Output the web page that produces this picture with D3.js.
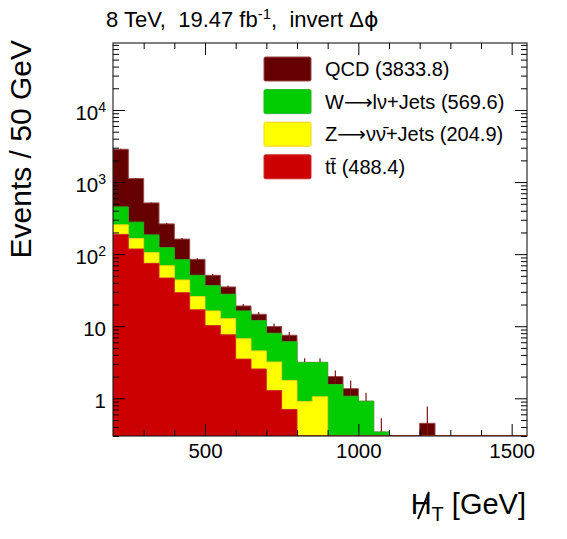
<!DOCTYPE html>
<html>
<head>
<meta charset="utf-8">
<script src="https://cdn.jsdelivr.net/npm/d3@7"></script>
<style>
  body { margin: 0; background: #fff; }
  text { font-family: "Liberation Sans", Arial, Helvetica, sans-serif; white-space: pre; }
  .sym { font-family: "DejaVu Sans", sans-serif; }
</style>
</head>
<body>
<div id="chart"></div>
<script>
// bin low edges (50 GeV bins)
var binLow = [200, 250, 300, 350, 400, 450, 500, 550, 600, 650, 700, 750, 800, 850,
              900, 950, 1000, 1050, 1100, 1150, 1200, 1250, 1300, 1350, 1400, 1450, 1500];
var binWidth = 50;

// per-process yields
var ttbar = [188, 118, 74.6, 46.7, 29.2, 16.9, 10.2, 7.6, 3.5, 2.55, 1.28, 0.70, 0, 0,
             0, 0, 0, 0, 0, 0, 0, 0, 0, 0, 0, 0, 0];
var zinv  = [67, 47, 30.4, 22.3, 14.6, 8.9, 6.1, 5.1, 3.2, 2.0, 1.91, 1.07, 0.90, 1.05,
             0, 0, 0, 0, 0, 0, 0, 0, 0, 0, 0, 0, 0];
var wjets = [197, 113, 80, 54, 40, 25.1, 20.2, 15.1, 9.6, 7.4, 4.8, 4.33, 2.25, 2.10,
             1.55, 1.07, 0.91, 0.34, 0, 0, 0, 0, 0, 0, 0, 0, 0];
var qcd   = [2400, 840, 329, 140, 78, 33.9, 14.4, 7.3, 2.8, 2.7, 1.9, 1.4, 0, 0,
             0.45, 0.29, 0, 0, 0, 0, 0.45, 0, 0, 0, 0, 0, 0];
// uncertainty on the total stack
var totalErr = [40, 18, 8, 8.5, 5.2, 2.7, 2.2, 1.5, 1.26, 1.12, 0.99, 0.83, 0.46, 0.46,
                0.44, 0.41, 0.28, 0.19, 0, 0, 0.32, 0, 0, 0, 0, 0, 0];

// legend pieces: [text before arrow, arrow, text after]
var legendLabels = [["QCD (3833.8)", "", ""],
                    ["W", "\u27f6", "l\u03bd+Jets (569.6)"],
                    ["Z", "\u27f6", "\u03bd\u03bd\u0304+Jets (204.9)"],
                    ["tt\u0304 (488.4)", "", ""]];
var fillColors   = ["#660000", "#00cc00", "#ffff00", "#cc0000"];
var lineColors   = ["#9a4848", "#22b822", "#f2d21a", "#d02a2a"];

var xMajorTicks = [500, 1000, 1500];
var xMinorTicks = [300, 400, 600, 700, 800, 900, 1100, 1200, 1300, 1400];
var yMajorTicks = [1, 10, 100, 1000, 10000];

// Set up SVG dimensions
var margin = { top: 43, right: 40, bottom: 103, left: 113 },
    width = 567 - margin.left - margin.right,
    height = 539 - margin.top - margin.bottom;

var svgRoot = d3.select("#chart")
    .append("svg")
    .attr("width", 567)
    .attr("height", 539);

var svg = svgRoot.append("g")
    .attr("transform", "translate(" + margin.left + "," + margin.top + ")");

var x = d3.scaleLinear().domain([200, 1550]).range([0, width]);
var y = d3.scaleLog().domain([0.3, 85000]).range([height, 0]);

svg.append("clipPath").attr("id", "plotClip")
   .append("rect").attr("width", width).attr("height", height);

// cumulative stacks, bottom to top: tt, Z, W, QCD
var stacks = [];
var running = binLow.map(function() { return 0; });
[ttbar, zinv, wjets, qcd].forEach(function(series) {
  running = running.map(function(v, i) { return v + series[i]; });
  stacks.push(running.slice());
});
// draw order: largest first (QCD total), then W, Z, tt
var drawOrder = [3, 2, 1, 0];

function stepPath(tops) {
  var ymin = y.domain()[0];
  var pts = [];
  binLow.forEach(function(lo, i) {
    var v = Math.max(tops[i], ymin);
    pts.push([x(lo), y(v)]);
    pts.push([x(lo + binWidth), y(v)]);
  });
  var d = "M" + x(binLow[0]) + "," + y(ymin);
  pts.forEach(function(p) { d += "L" + p[0] + "," + p[1]; });
  d += "L" + x(binLow[binLow.length - 1] + binWidth) + "," + y(ymin) + "Z";
  return d;
}

var plot = svg.append("g").attr("clip-path", "url(#plotClip)");

drawOrder.forEach(function(k, n) {
  plot.append("path")
      .attr("d", stepPath(stacks[k]))
      .attr("fill", fillColors[n])
      .attr("stroke", lineColors[n])
      .attr("stroke-width", 1);

  if (n === 0) {
    // error bars on the total
    plot.selectAll(".err")
        .data(binLow.filter(function(lo, i) { return totalErr[i] > 0; }))
        .enter().append("line")
        .attr("class", "err")
        .attr("x1", function(lo) { return x(lo + binWidth / 2); })
        .attr("x2", function(lo) { return x(lo + binWidth / 2); })
        .attr("y1", function(lo) {
          var i = binLow.indexOf(lo);
          return y(Math.max(stacks[3][i] - totalErr[i], 0.3));
        })
        .attr("y2", function(lo) {
          var i = binLow.indexOf(lo);
          return y(stacks[3][i] + totalErr[i]);
        })
        .attr("stroke", "#7a1414")
        .attr("stroke-width", 1.2);
  }
});

// frame
svg.append("rect")
   .attr("width", width).attr("height", height)
   .attr("fill", "none").attr("stroke", "#000").attr("stroke-width", 1);

var yMinor = y.ticks().filter(function(t) { return yMajorTicks.indexOf(t) < 0 && t < 85000; });

function styleAxis(g) {
  g.select(".domain").remove();
  g.selectAll(".tick line").attr("stroke", "#000").attr("stroke-width", 1);
}

// X axis bottom, ticks point inward
svg.append("g")
   .attr("transform", "translate(0," + height + ")")
   .call(d3.axisBottom(x).tickValues(xMajorTicks).tickSize(-12).tickPadding(8).tickFormat(d3.format("d")))
   .call(styleAxis)
   .selectAll("text")
   .attr("y", 22).attr("dy", 0)
   .style("font-size", "20.5px").style("fill", "#000");
svg.append("g")
   .attr("transform", "translate(0," + height + ")")
   .call(d3.axisBottom(x).tickValues(xMinorTicks).tickSize(-6).tickFormat(""))
   .call(styleAxis);
// X axis top (mirror)
svg.append("g")
   .call(d3.axisTop(x).tickValues(xMajorTicks).tickSize(-12).tickFormat(""))
   .call(styleAxis);
svg.append("g")
   .call(d3.axisTop(x).tickValues(xMinorTicks).tickSize(-6).tickFormat(""))
   .call(styleAxis);

// Y axis left
svg.append("g")
   .call(d3.axisLeft(y).tickValues(yMajorTicks).tickSize(-12).tickFormat(""))
   .call(styleAxis);
svg.append("g")
   .call(d3.axisLeft(y).tickValues(yMinor).tickSize(-6).tickFormat(""))
   .call(styleAxis);
// Y axis right (mirror)
svg.append("g")
   .attr("transform", "translate(" + width + ",0)")
   .call(d3.axisRight(y).tickValues(yMajorTicks).tickSize(-12).tickFormat(""))
   .call(styleAxis);
svg.append("g")
   .attr("transform", "translate(" + width + ",0)")
   .call(d3.axisRight(y).tickValues(yMinor).tickSize(-6).tickFormat(""))
   .call(styleAxis);

// Y tick labels, ROOT style 10^n
yMajorTicks.forEach(function(t) {
  var n = Math.round(Math.log10(t));
  var lab = svg.append("text")
     .attr("x", -7)
     .attr("y", y(t) + 10)
     .attr("text-anchor", "end")
     .style("font-size", "20.5px");
  if (n < 2) {
    lab.text(String(t));
  } else {
    lab.append("tspan").text("10");
    lab.append("tspan").attr("dy", -8).style("font-size", "14px").text(String(n));
  }
});

// title
var title = svgRoot.append("text")
   .attr("x", 106).attr("y", 27)
   .style("font-size", "22px");
title.append("tspan").text("8 TeV,  19.47 fb");
title.append("tspan").attr("dy", -8).style("font-size", "15px").text("-1");
title.append("tspan").attr("dy", 8).text(",  invert \u0394");
title.append("tspan").attr("class", "sym").text("\u03d5");

// Y axis label
svgRoot.append("text")
   .attr("transform", "translate(31,40) rotate(-90)")
   .attr("text-anchor", "end")
   .style("font-size", "30px")
   .text("Events / 50 GeV");

// X axis label: slashed H_T [GeV]
var xl = svgRoot.append("text")
   .attr("x", 526).attr("y", 514)
   .attr("text-anchor", "end")
   .style("font-size", "29px");
xl.append("tspan").text("H");
xl.append("tspan").attr("dy", 7).style("font-size", "20px").text("T");
xl.append("tspan").attr("dy", -7).text(" [GeV]");
svgRoot.append("line")
   .attr("x1", 418).attr("y1", 519)
   .attr("x2", 429).attr("y2", 492)
   .attr("stroke", "#000").attr("stroke-width", 2);

// legend
var legend = svgRoot.append("g").attr("transform", "translate(264,57)");
legendLabels.forEach(function(parts, i) {
  var row = legend.append("g").attr("transform", "translate(0," + (i * 32.6) + ")");
  row.append("rect")
     .attr("width", 47).attr("height", 24)
     .attr("rx", 1.5)
     .attr("fill", fillColors[i])
     .attr("stroke", lineColors[i]).attr("stroke-width", 1);
  var t = row.append("text")
     .attr("x", 61).attr("y", 19.3)
     .style("font-size", "20px");
  t.append("tspan").text(parts[0]);
  if (parts[1]) {
    t.append("tspan").attr("class", "sym").text(parts[1]);
    t.append("tspan").text(parts[2]);
  }
});
</script>
</body>
</html>
